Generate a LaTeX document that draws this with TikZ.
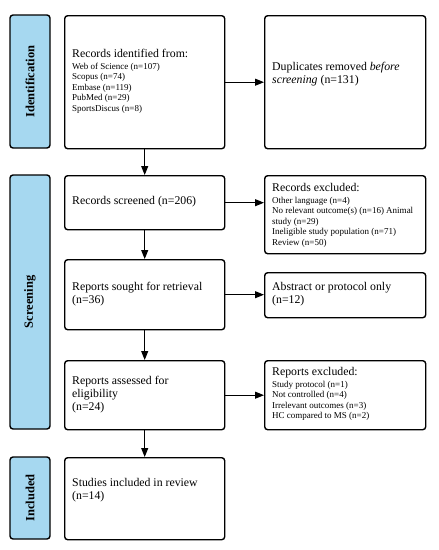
\documentclass[tikz,border=0pt]{standalone}
\usepackage{fontspec}
\setmainfont{Liberation Serif}
\usetikzlibrary{arrows.meta}
\definecolor{sidefill}{RGB}{166,216,240}
\tikzset{
  box/.style={draw=black, line width=1.4pt, rounded corners=3pt, fill=white},
  side/.style={draw=black, line width=1.4pt, rounded corners=3pt, fill=sidefill},
  sidelabel/.style={rotate=90, font=\fontsize{12.5}{14}\selectfont\bfseries},
  txt/.style={anchor=west, align=left, inner sep=0pt, font=\fontsize{11.8}{13}\selectfont},
  arr/.style={line width=1pt, -{Triangle[length=9pt,width=7pt]}},
}
\newcommand{\smalltxt}{\fontsize{9}{10.7}\selectfont}
\begin{document}
\begin{tikzpicture}[x=1pt,y=-1pt]
\useasboundingbox (0,0) rectangle (439,550);
% side boxes
\draw[side] (10,15) rectangle (50,148);
\node[sidelabel] (sid) at (30,81.5) {Identification};
\draw[side] (10,175) rectangle (50,429);
\node[sidelabel] (sscr) at (30,302) {Screening};
\draw[side] (10,457) rectangle (50,539);
\node[sidelabel] (sinc) at (30,498) {Included};
% main boxes
\node[box, minimum width=160pt, minimum height=133pt, anchor=north west] (b1) at (64,15) {};
\node[box, minimum width=161pt, minimum height=133pt, anchor=north west] (r1) at (264,15) {};
\node[box, minimum width=160pt, minimum height=54pt, anchor=north west] (b2) at (64,175) {};
\node[box, minimum width=161pt, minimum height=78pt, anchor=north west] (r2) at (264,175) {};
\node[box, minimum width=160pt, minimum height=70pt, anchor=north west] (b3) at (64,259) {};
\node[box, minimum width=161pt, minimum height=45pt, anchor=north west] (r3) at (264,272) {};
\node[box, minimum width=160pt, minimum height=69pt, anchor=north west] (b4) at (64,360) {};
\node[box, minimum width=161pt, minimum height=69pt, anchor=north west] (r4) at (264,360) {};
\node[box, minimum width=160pt, minimum height=82pt, anchor=north west] (b5) at (64,457) {};
% texts
\node[txt] (t1) at (72,81) {Records identified from:\\[-1pt]
{\smalltxt Web of Science (n=107)}\\[-2.5pt]
{\smalltxt Scopus (n=74)}\\[-2.5pt]
{\smalltxt Embase (n=119)}\\[-2.5pt]
{\smalltxt PubMed (n=29)}\\[-2.5pt]
{\smalltxt SportsDiscus (n=8)}};
\node[txt] (tr1) at (272,74) {Duplicates removed \textit{before}\\\textit{screening} (n=131)};
\node[txt] (t2) at (72,202) {Records screened (n=206)};
\node[txt] (tr2) at (272,215) {Records excluded:\\[-1pt]
{\smalltxt Other language (n=4)}\\[-2.5pt]
{\smalltxt No relevant outcome(s) (n=16) Animal}\\[-2.5pt]
{\smalltxt study (n=29)}\\[-2.5pt]
{\smalltxt Ineligible study population (n=71)}\\[-2.5pt]
{\smalltxt Review (n=50)}};
\node[txt] (t3) at (72,294) {Reports sought for retrieval\\(n=36)};
\node[txt] (tr3) at (272,294) {Abstract or protocol only\\(n=12)};
\node[txt] (t4) at (72,395) {Reports assessed for\\eligibility\\(n=24)};
\node[txt] (tr4) at (272,394) {Reports excluded:\\[-1pt]
{\smalltxt Study protocol (n=1)}\\[-2.5pt]
{\smalltxt Not controlled (n=4)}\\[-2.5pt]
{\smalltxt Irrelevant outcomes (n=3)}\\[-2.5pt]
{\smalltxt HC compared to MS (n=2)}};
\node[txt] (t5) at (72,490) {Studies included in review\\(n=14)};
% arrows
\draw[arr] (b1.east) -- (b1.east -| r1.west);
\draw[arr] (b1.south) -- (b2.north);
\draw[arr] (b2.east) -- (b2.east -| r2.west);
\draw[arr] (b2.south) -- (b3.north);
\draw[arr] (b3.east) -- (b3.east -| r3.west);
\draw[arr] (b3.south) -- (b4.north);
\draw[arr] (b4.east) -- (b4.east -| r4.west);
\draw[arr] (b4.south) -- (b5.north);
\end{tikzpicture}
\end{document}
